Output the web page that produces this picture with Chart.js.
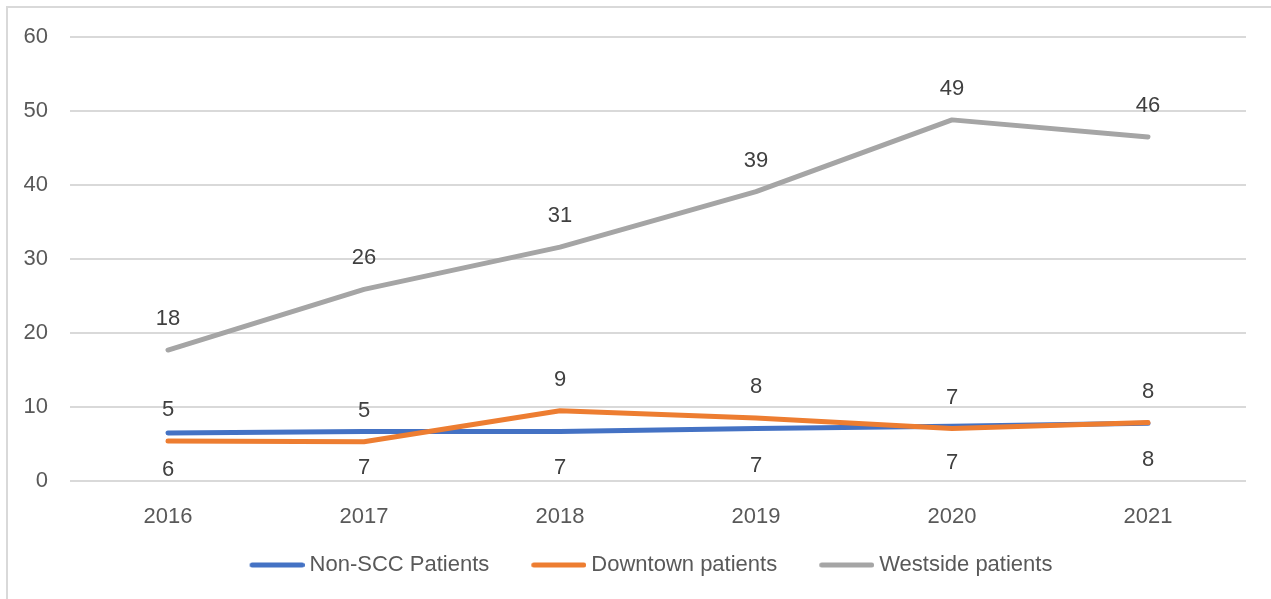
<!DOCTYPE html>
<html>
<head>
<meta charset="utf-8">
<script src="https://cdn.jsdelivr.net/npm/chart.js@4/dist/chart.umd.min.js"></script>
<style>
  body { margin: 0; background: #fff; overflow: hidden; }
  #frame { position: absolute; left: 6px; top: 6px; width: 1300px; height: 620px;
           border-left: 2px solid #d9d9d9; border-top: 2px solid #d9d9d9; }
  #chart { position: absolute; left: 0; top: 0; }
</style>
</head>
<body>
<div id="frame"></div>
<canvas id="chart" width="1271" height="599"></canvas>
<script>
var years = ["2016", "2017", "2018", "2019", "2020", "2021"]
var nonScc = [6.5, 6.7, 6.7, 7.1, 7.4, 7.8]
var downtown = [5.4, 5.3, 9.5, 8.5, 7.1, 7.9]
var westside = [17.7, 25.9, 31.6, 39.1, 48.8, 46.5]
// labels as printed on the chart
var nonSccLabels = ["6", "7", "7", "7", "7", "8"]
var downtownLabels = ["5", "5", "9", "8", "7", "8"]
var westsideLabels = ["18", "26", "31", "39", "49", "46"]

var FONT = "'Liberation Sans', Arial, sans-serif"
var KEY_BOX = 81 // legend box: 32 blank + 55 line, minus the overlap below

// legend sample: a round capped line, with blank room on its left so the
// items sit further apart
function legendLine(color) {
	var c = document.createElement("canvas")
	c.width = KEY_BOX + 12
	c.height = 10
	var g = c.getContext("2d")
	g.strokeStyle = color
	g.lineWidth = 5
	g.lineCap = "round"
	g.beginPath()
	g.moveTo(38 + 2.5, 5)
	g.lineTo(c.width - 2.5, 5)
	g.stroke()
	return c
}

// draws the value labels above / below each point
var pointLabels = {
	id: "pointLabels",
	afterDatasetsDraw: function(chart) {
		var ctx = chart.ctx
		ctx.save()
		ctx.font = "22px " + FONT
		ctx.fillStyle = "#404040"
		ctx.textAlign = "center"
		ctx.textBaseline = "middle"
		chart.data.datasets.forEach(function(ds, i) {
			var meta = chart.getDatasetMeta(i)
			meta.data.forEach(function(pt, j) {
				ctx.fillText(ds.pointText[j], pt.x, pt.y + ds.textOffset)
			})
		})
		ctx.restore()
	}
}

function lineSet(label, data, color, text, offset, order) {
	return {
		label: label,
		data: data,
		borderColor: color,
		backgroundColor: color,
		borderWidth: 5,
		borderCapStyle: "round",
		borderJoinStyle: "round",
		pointRadius: 0,
		pointHoverRadius: 0,
		pointStyle: legendLine(color),
		tension: 0,
		order: order,
		pointText: text,
		textOffset: offset
	}
}

var ctx = document.getElementById("chart").getContext("2d")
var chart = new Chart(ctx, {
	type: "line",
	data: {
		labels: years,
		datasets: [
			lineSet("Non-SCC Patients", nonScc, "#4472C4", nonSccLabels, 37, 3),
			lineSet("Downtown patients", downtown, "#ED7D31", downtownLabels, -31, 2),
			lineSet("Westside patients", westside, "#A5A5A5", westsideLabels, -31, 1)
		]
	},
	options: {
		responsive: false,
		animation: false,
		layout: { padding: { top: 37, left: 24, right: 25, bottom: 13 } },
		scales: {
			x: {
				offset: true,
				grid: { display: false },
				border: { display: false },
				ticks: { color: "#595959", font: { family: FONT, size: 22 }, padding: 15 },
				afterFit: function(s) { s.height = 63 }
			},
			y: {
				min: 0,
				max: 60,
				ticks: { stepSize: 10, color: "#595959", font: { family: FONT, size: 22 }, padding: 22 },
				grid: { color: "#d9d9d9", lineWidth: 2, drawTicks: false },
				border: { display: false },
				afterFit: function(s) { s.width = 46 }
			}
		},
		plugins: {
			tooltip: { enabled: false },
			legend: {
				position: "bottom",
				labels: {
					usePointStyle: true,
					pointStyleWidth: KEY_BOX,
					padding: 10,
					color: "#595959",
					font: { family: FONT, size: 22 },
					sort: function(a, b) { return a.datasetIndex - b.datasetIndex }
				}
			}
		}
	},
	plugins: [pointLabels]
})
</script>
</body>
</html>
